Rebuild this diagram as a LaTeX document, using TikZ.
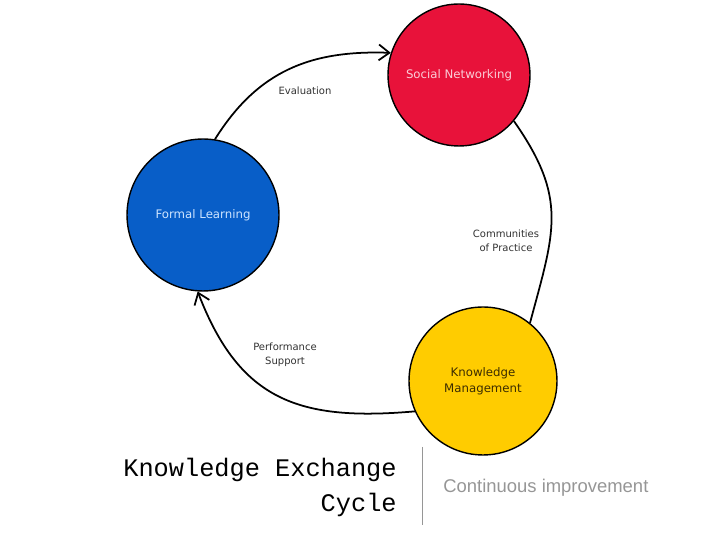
\documentclass[tikz,border=0pt]{standalone}
\usepackage{fontspec}
\usepackage{xcolor}
\usepackage{tikz}
\usetikzlibrary{calc,arrows.meta,positioning}
\newfontfamily\labelfont{DejaVu Sans}
\newfontfamily\titlefont{Liberation Mono}
\newfontfamily\subfont{Liberation Sans}
\definecolor{cSocial}{RGB}{232,18,58}
\definecolor{cFormal}{RGB}{8,94,200}
\definecolor{cKnow}{RGB}{255,204,0}
\definecolor{cSocTxt}{RGB}{250,205,215}
\definecolor{cForTxt}{RGB}{205,228,255}
\definecolor{cKnoTxt}{RGB}{60,45,0}
\definecolor{cLabel}{RGB}{50,50,50}
\definecolor{cGrey}{RGB}{150,150,150}

\begin{document}
\begin{tikzpicture}[x=0.02cm,y=-0.02cm]
  \useasboundingbox (0,0) rectangle (728,546);
  % the three circles
  \node[circle,draw,thick,fill=cSocial,inner sep=0pt,minimum size=2.84cm,
        text=cSocTxt,font=\labelfont\fontsize{6.7}{9}\selectfont] (sn) at (459,75) {Social Networking};
  \node[circle,draw,thick,fill=cFormal,inner sep=0pt,minimum size=3.04cm,
        text=cForTxt,font=\labelfont\fontsize{6.7}{9}\selectfont] (fl) at (203,215) {Formal Learning};
  \node[circle,draw,thick,fill=cKnow,inner sep=0pt,minimum size=2.96cm,align=center,
        text=cKnoTxt,font=\labelfont\fontsize{6.7}{9}\selectfont] (km) at (483,381) {Knowledge\\Management};
  % the cycle
  \draw[line width=1pt,-{Straight Barb[length=6pt,width=9pt]}] (fl.81) to[out=58,in=178,looseness=1.05] (sn.162);
  \draw[line width=1pt] (sn.-40) to[out=-55,in=75,looseness=1.2] (km.51);
  \draw[line width=1pt,-{Straight Barb[length=6pt,width=9pt]}] (km.204) to[out=185,in=-69,looseness=1.2] (fl.266);
  % labels on the arcs
  \node[cLabel,font=\labelfont\fontsize{5.7}{8}\selectfont] (ev) at (305,91) {Evaluation};
  \node[cLabel,align=center,font=\labelfont\fontsize{5.7}{8}\selectfont] (cp) at (506,241) {Communities\\of Practice};
  \node[cLabel,align=center,font=\labelfont\fontsize{5.7}{8}\selectfont] (ps) at (285,355) {Performance\\Support};
  % title and subtitle
  \node[anchor=base east,inner sep=0pt,font=\titlefont\fontsize{14.4}{20}\selectfont] (t1) at (397,477) {Knowledge Exchange};
  \node[anchor=base east,inner sep=0pt,font=\titlefont\fontsize{14.4}{20}\selectfont] (t2) at (397,512) {Cycle};
  \draw[cGrey,thin] (422,447) -- (422,525);
  \node[anchor=base west,inner sep=0pt,cGrey,font=\subfont\fontsize{10.5}{12}\selectfont] (ci) at (443,493) {Continuous improvement};
\end{tikzpicture}
\end{document}
